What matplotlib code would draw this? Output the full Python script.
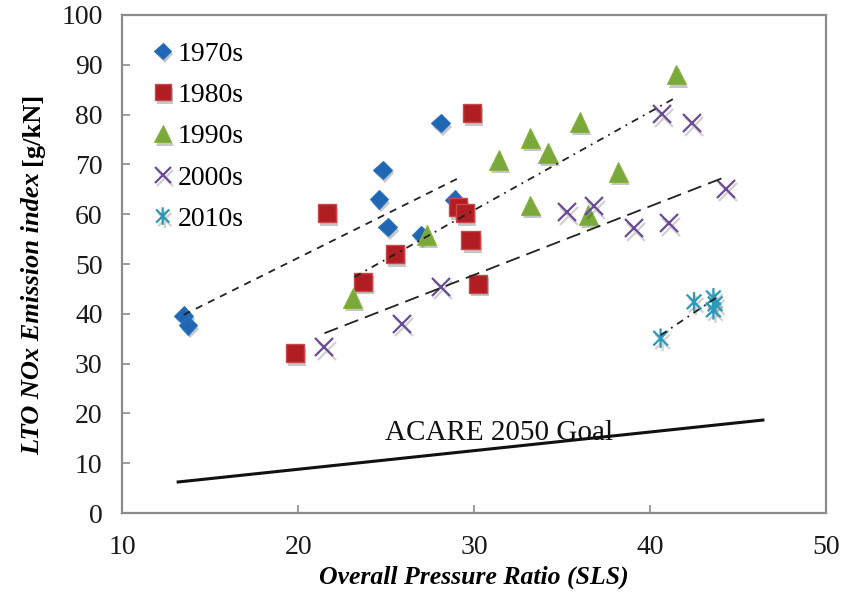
import numpy as np
import matplotlib
matplotlib.use("Agg")
import matplotlib.pyplot as plt
import matplotlib.patheffects as pe
from matplotlib.path import Path

# ---- Data ----
opr_1970s = [13.5, 13.75, 24.8, 24.6, 25.1, 27.0, 28.1, 28.9]
ei_1970s = [39.6, 37.7, 68.9, 63.0, 57.4, 55.8, 78.3, 62.9]

opr_1980s = [19.8, 21.65, 23.7, 25.5, 29.9, 29.1, 29.5, 29.8, 30.2]
ei_1980s = [32.1, 60.2, 46.4, 52.0, 80.3, 61.4, 60.2, 54.8, 46.0]

opr_1990s = [23.1, 27.3, 31.4, 33.2, 34.2, 36.0, 33.2, 36.5, 38.2, 41.5]
ei_1990s = [43.2, 55.8, 70.9, 75.3, 72.3, 78.5, 61.8, 59.8, 68.5, 88.0]

opr_2000s = [21.5, 25.9, 28.1, 35.3, 36.8, 39.1, 41.1, 40.7, 42.4, 44.3]
ei_2000s = [33.3, 38.0, 45.4, 60.4, 61.6, 57.2, 58.2, 80.1, 78.3, 65.1]

opr_2010s = [40.6, 42.5, 43.6, 43.6, 43.7]
ei_2010s = [35.1, 42.4, 43.2, 40.8, 42.0]

# trend lines (end points)
trend_1970s_x = [13.5, 29.15]
trend_1970s_y = [39.8, 67.3]
trend_1990s_x = [23.2, 41.4]
trend_1990s_y = [47.4, 83.3]
trend_2000s_x = [21.5, 44.15]
trend_2000s_y = [36.1, 67.3]
trend_2010s_x = [40.6, 43.75]
trend_2010s_y = [35.7, 43.2]

acare_x = [13.1, 46.5]
acare_y = [6.2, 18.7]

# ---- Style ----
plt.rcParams["font.family"] = ["Liberation Serif", "DejaVu Serif"]
GRAY = "#8c8c8c"

# asterisk marker: vertical bar plus an X
ast = Path([(0, -1), (0, 1), (-0.75, -0.75), (0.75, 0.75), (-0.75, 0.75), (0.75, -0.75)],
           [Path.MOVETO, Path.LINETO, Path.MOVETO, Path.LINETO, Path.MOVETO, Path.LINETO])

fill_shadow = [pe.SimplePatchShadow(offset=(1.5, -2.5), shadow_rgbFace="k", alpha=0.22), pe.Normal()]
line_shadow = [pe.SimpleLineShadow(offset=(1.5, -2.5), shadow_color="k", alpha=0.18), pe.Normal()]

fig = plt.figure(figsize=(8.42, 5.92), dpi=100)
ax = fig.add_axes([0.145, 0.1334, 0.836, 0.8413])

ax.plot(opr_1970s, ei_1970s, ls="none", marker="D", ms=9.5, mfc="#1f66b3", mec="#2a74c0",
        mew=0.8, label="1970s", path_effects=fill_shadow, zorder=3)
ax.plot(opr_1980s, ei_1980s, ls="none", marker="s", ms=13, mfc="#b01e23", mec="#c8484b",
        mew=1.0, label="1980s", path_effects=fill_shadow, zorder=3)
ax.plot(opr_1990s, ei_1990s, ls="none", marker="^", ms=14, mfc="#7aa83a", mec="#86b446",
        mew=0.8, label="1990s", path_effects=fill_shadow, zorder=3)
ax.plot(opr_2000s, ei_2000s, ls="none", marker="x", ms=13, mec="#6b4a96", mew=1.6,
        label="2000s", path_effects=line_shadow, zorder=3)
ax.plot(opr_2010s, ei_2010s, ls="none", marker=ast, ms=14, mec="#2b9ab8", mew=1.6,
        label="2010s", path_effects=line_shadow, zorder=3)

# trend lines
ax.plot(trend_1970s_x, trend_1970s_y, color="#222222", lw=1.3, ls=(0, (4, 3.5)), zorder=4)
ax.plot(trend_1990s_x, trend_1990s_y, color="#222222", lw=1.3, ls=(0, (4, 3, 1, 3)), zorder=4)
ax.plot(trend_2000s_x, trend_2000s_y, color="#222222", lw=1.3, ls=(0, (8, 4)), zorder=4)
ax.plot(trend_2010s_x, trend_2010s_y, color="#222222", lw=1.3, ls=(0, (4, 3, 1, 3)), zorder=4)

# ACARE goal
ax.plot(acare_x, acare_y, color="#111111", lw=2.2, solid_capstyle="butt")
ax.text(31.4, 16.1, "ACARE 2050 Goal", fontsize=21, ha="center", va="center", color="#111111")

ax.set_xlim(10, 50)
ax.set_ylim(0, 100)
ax.set_xticks(np.arange(10, 51, 10))
ax.set_yticks(np.arange(0, 101, 10))
ax.tick_params(direction="in", length=6, width=1.2, color=GRAY, labelsize=20,
               labelcolor="#1a1a1a")
ax.tick_params(axis="x", pad=16)
ax.tick_params(axis="y", pad=14)
for s in ax.spines.values():
    s.set_color(GRAY)
    s.set_linewidth(1.6)

ax.set_xlabel("Overall Pressure Ratio (SLS)", fontsize=18.5, fontweight="bold",
              fontstyle="italic", labelpad=4)

# y label: italic part + upright units, drawn end to end
ylab1 = fig.text(0.046, 0.231, "LTO NOx Emission index ", fontsize=19, fontweight="bold",
                 fontstyle="italic", rotation=90, rotation_mode="anchor",
                 ha="left", va="baseline")
fig.canvas.draw()
ext = ylab1.get_window_extent()
fig.text(0.046, (ext.y1 + 1) / fig.bbox.height, "[g/kN]", fontsize=19, fontweight="bold",
         rotation=90, rotation_mode="anchor", ha="left", va="baseline")

leg = ax.legend(loc="upper left", bbox_to_anchor=(0.034, 0.964), frameon=False, fontsize=20,
                handlelength=0.6, handletextpad=0.25, labelspacing=0.57, borderaxespad=0,
                borderpad=0.3, markerscale=0.9)

fig.savefig("out.png", dpi=100)
